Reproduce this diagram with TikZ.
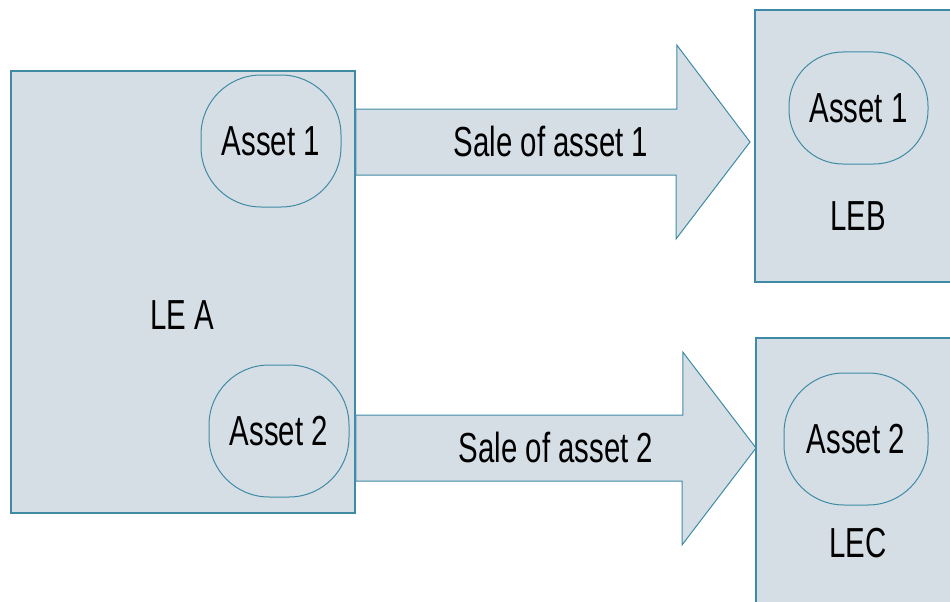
\documentclass[tikz,border=0pt]{standalone}
\usepackage{fontspec}
\setmainfont{Liberation Sans}[FakeStretch=0.7]
\usepackage{tikz}
\usetikzlibrary{positioning, fit, arrows.meta, shapes}
\definecolor{boxfill}{HTML}{D6DEE5}
\definecolor{boxline}{HTML}{3F8BA5}

\begin{document}
\begin{tikzpicture}[x=1pt,y=-1pt]
		\tikzstyle{entity}=[draw=boxline,line width=1.5pt,fill=boxfill,rectangle,inner sep=0]
		\tikzstyle{asset}=[draw=boxline,line width=1pt,fill=boxfill,rectangle,rounded corners=60pt,inner sep=0,font=\fontsize{42}{48}\selectfont]
		\tikzstyle{txt}=[draw=none,fill=none,font=\fontsize{42}{48}\selectfont]
		\tikzstyle{bigarrow}=[draw=boxline,line width=1pt,fill=boxfill]
		\useasboundingbox (0,0) rectangle (950,602);
		\clip (0,0) rectangle (950,602);
		\node[entity,minimum width=344pt,minimum height=442pt] (leA) at (183,292) {};
		\node[entity,minimum width=210pt,minimum height=272pt] (leB) at (860,146) {};
		\node[entity,minimum width=210pt,minimum height=282pt] (leC) at (861,479) {};
		\node[asset,minimum width=140pt,minimum height=132pt] (a1) at (271,141) {Asset 1};
		\node[asset,minimum width=140pt,minimum height=132pt] (a2) at (279,431) {Asset 2};
		\node[asset,minimum width=139pt,minimum height=112pt,rounded corners=54pt] (b1) at (858.5,108) {Asset 1};
		\node[asset,minimum width=144pt,minimum height=132pt] (c2) at (856,439) {Asset 2};
		\node[txt] (leAlabel) at (182,315) {LE A};
		\node[txt] (leBlabel) at (858,216) {LEB};
		\node[txt] (leClabel) at (858,543) {LEC};
		\coordinate (tip1) at (750,142);
		\coordinate (tip2) at (756,448);
		\coordinate (tail1) at (leA.east |- tip1);
		\coordinate (tail2) at (leA.east |- tip2);
		\draw[bigarrow] ([yshift=33pt]tail1) -- ++(321,0) -- ++(0,-64) -- (tip1) -- ++(-74,97) -- ++(0,-64) -- ([yshift=-33pt]tail1) -- cycle;
		\draw[bigarrow] ([yshift=33pt]tail2) -- ++(327,0) -- ++(0,-63) -- (tip2) -- ++(-74,97) -- ++(0,-64) -- ([yshift=-33pt]tail2) -- cycle;
		\node[txt] (sale1) at (551,141) {Sale of asset 1};
		\node[txt] (sale2) at (556,447) {Sale of asset 2};
\end{tikzpicture}
\end{document}
